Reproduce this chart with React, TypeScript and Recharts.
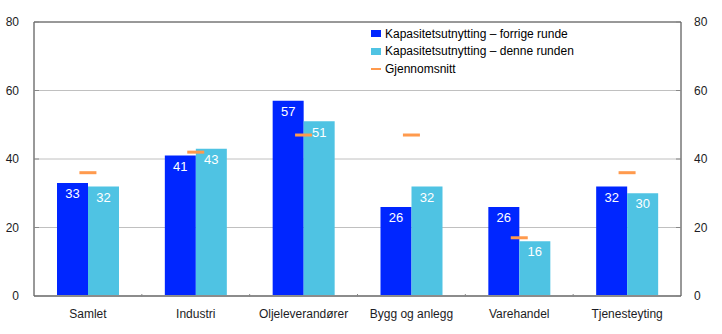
import React from 'react';
import {
  ComposedChart,
  Bar,
  Line,
  XAxis,
  YAxis,
  CartesianGrid,
  LabelList,
  ReferenceLine,
} from 'recharts';

// Data
const categories = ['Samlet', 'Industri', 'Oljeleverandører', 'Bygg og anlegg', 'Varehandel', 'Tjenesteyting'];
const forrigeRunde = [33, 41, 57, 26, 26, 32];
const denneRunden = [32, 43, 51, 32, 16, 30];
const gjennomsnitt = [36, 42, 47, 47, 17, 36];
const yTicks = [0, 20, 40, 60, 80];

const seriesNames = {
  forrige: 'Kapasitetsutnytting – forrige runde',
  denne: 'Kapasitetsutnytting – denne runden',
  snitt: 'Gjennomsnitt',
};

const DARK_BLUE = '#0026ff';
const LIGHT_BLUE = '#4fc3e3';
const ORANGE = '#ff9a4d';
const TEXT = '#1c1c24';
const FONT = 'Liberation Sans, Arial, sans-serif';

const W = 722;
const H = 334;
const LEFT_W = 34;
const RIGHT_W = 41;
const BAND = (W - LEFT_W - RIGHT_W) / categories.length;

const chartData = categories.map((name, i) => ({
  name,
  forrige: forrigeRunde[i],
  denne: denneRunden[i],
  snitt: gjennomsnitt[i],
}));

const AvgDash = (props: any) => {
  const { cx, cy } = props;
  if (cx == null || cy == null) return null;
  return <rect x={cx - 8.5} y={cy - 1.5} width={17} height={3} fill={ORANGE} />;
};

const XTick = (props: any) => {
  const { x, y, payload, index } = props;
  const last = index === categories.length - 1;
  return (
    <g>
      {!last && (
        <line x1={x + BAND / 2} x2={x + BAND / 2} y1={y - 4} y2={y - 1} stroke="#888" strokeWidth={1} />
      )}
      <text x={x} y={y + 20} textAnchor="middle" fill={TEXT} fontSize={12} fontFamily={FONT}>
        {payload.value}
      </text>
    </g>
  );
};

const LeftTick = (props: any) => {
  const { x, y, payload } = props;
  return (
    <g>
      <line x1={x + 15} x2={x + 20} y1={y} y2={y} stroke="#888" />
      <text x={x} y={y + 4} textAnchor="end" fill={TEXT} fontSize={12} fontFamily={FONT}>
        {payload.value}
      </text>
    </g>
  );
};

const RightTick = (props: any) => {
  const { x, y, payload } = props;
  return (
    <g>
      <line x1={x - 18} x2={x - 13} y1={y} y2={y} stroke="#888" />
      <text x={x} y={y + 4} textAnchor="start" fill={TEXT} fontSize={12} fontFamily={FONT}>
        {payload.value}
      </text>
    </g>
  );
};

const ChartLegend = () => {
  const items = [
    { label: seriesNames.forrige, color: DARK_BLUE, kind: 'rect' },
    { label: seriesNames.denne, color: LIGHT_BLUE, kind: 'rect' },
    { label: seriesNames.snitt, color: ORANGE, kind: 'line' },
  ];
  return (
    <div style={{ position: 'absolute', left: 371, top: 25, fontFamily: FONT, fontSize: 12, color: '#000' }}>
      {items.map((it) => (
        <div key={it.label} style={{ display: 'flex', alignItems: 'center', height: 17.5 }}>
          <span
            style={{
              display: 'inline-block',
              width: 10,
              height: it.kind === 'rect' ? 7 : 2,
              background: it.color,
              marginRight: 4,
            }}
          />
          <span>{it.label}</span>
        </div>
      ))}
    </div>
  );
};

export default function App() {
  return (
    <div style={{ position: 'absolute', left: 0, top: 0, width: W, height: H, background: '#fff' }}>
      <ComposedChart
        width={W}
        height={H}
        data={chartData}
        margin={{ top: 22, right: 0, left: 0, bottom: 0 }}
        barGap={0}
        barSize={31}
      >
        <CartesianGrid vertical={false} stroke="#c0c0c0" horizontalValues={[20, 40, 60]} yAxisId="left" />
        <XAxis
          dataKey="name"
          height={38}
          interval={0}
          tickLine={false}
          tickSize={0}
          axisLine={{ stroke: '#8c8c8c', strokeWidth: 2 }}
          tick={<XTick />}
        />
        <YAxis
          yAxisId="left"
          width={LEFT_W}
          domain={[0, 80]}
          ticks={yTicks}
          tickLine={false}
          tickSize={0}
          tickMargin={15}
          axisLine={{ stroke: '#333' }}
          tick={<LeftTick />}
        />
        <YAxis
          yAxisId="right"
          orientation="right"
          width={RIGHT_W}
          domain={[0, 80]}
          ticks={yTicks}
          tickLine={false}
          tickSize={0}
          tickMargin={13}
          axisLine={{ stroke: '#333' }}
          tick={<RightTick />}
        />
        <ReferenceLine yAxisId="left" y={80} stroke="#333" />
        <Bar yAxisId="left" dataKey="forrige" name={seriesNames.forrige} fill={DARK_BLUE} isAnimationActive={false}>
          <LabelList dataKey="forrige" position="insideTop" offset={6} fill="#fff" fontSize={13} fontFamily={FONT} />
        </Bar>
        <Bar yAxisId="left" dataKey="denne" name={seriesNames.denne} fill={LIGHT_BLUE} isAnimationActive={false}>
          <LabelList dataKey="denne" position="insideTop" offset={6} fill="#fff" fontSize={13} fontFamily={FONT} />
        </Bar>
        <Line
          yAxisId="right"
          dataKey="snitt"
          name={seriesNames.snitt}
          stroke="none"
          dot={<AvgDash />}
          activeDot={false}
          isAnimationActive={false}
        />
      </ComposedChart>
      <ChartLegend />
    </div>
  );
}
